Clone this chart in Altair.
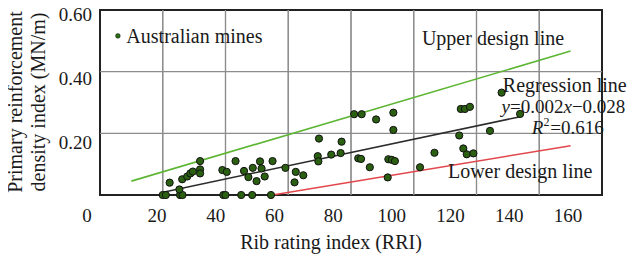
import altair as alt
import pandas as pd

FONT = "Liberation Serif"
TXT = "#1a1a1a"

# ---- data ----
rri = [20, 21, 25.5, 26.3, 39.3, 40, 45, 48.5, 54.5,
       22.2, 25.3, 26.2, 27.8, 28.8, 29.6, 31.9, 31.9, 31.9,
       39, 40.4, 43.2, 45.9, 47.3, 48.7, 49.9, 51, 51.5, 52.5, 55,
       59.1, 62.4, 64.8, 62, 69.8, 69.4, 69.6, 73.7, 76.7, 77, 82.3,
       81, 83.4, 88, 93.5, 93.5, 83.2, 86, 91.9, 93, 94, 91.7, 102, 106.6,
       115, 116.3, 117.9, 128, 133.9, 114.5, 124.3, 115.8, 116.9, 119]
prdi = [0, 0, 0, 0, 0, 0, 0, 0, 0,
        0.040, 0.018, 0.051, 0.060, 0.070, 0.076, 0.083, 0.070, 0.110,
        0.081, 0.075, 0.110, 0.078, 0.058, 0.088, 0.045, 0.109, 0.086, 0.060, 0.110,
        0.088, 0.075, 0.064, 0.041, 0.183, 0.126, 0.109, 0.131, 0.136, 0.173, 0.119,
        0.262, 0.262, 0.245, 0.267, 0.211, 0.117, 0.090, 0.116, 0.114, 0.110, 0.057, 0.090, 0.137,
        0.279, 0.279, 0.286, 0.332, 0.263, 0.193, 0.208, 0.151, 0.132, 0.135]

upper_x = [10, 150]
upper_y = [0.045, 0.467]
reg_x = [20.5, 134]
reg_y = [0.010, 0.254]
lower_x = [55, 150]
lower_y = [0.0, 0.160]

x_domain = [0, 160]
y_domain = [0, 0.6]
x_grid = [20, 40, 60, 80, 100, 120, 140]
y_grid = [0.2, 0.4]
x_label_vals = [20, 40, 60, 80, 100, 120, 140, 160]
x_label_text = ["20", "40", "60", "80", "100", "120", "140", "160"]
y_label_vals = [0.2, 0.4, 0.6]
y_label_text = ["0.20", "0.40", "0.60"]
x_title = "Rib rating index (RRI)"
y_title = "Primary reinforcement\ndensity index (MN/m)"

X = alt.Scale(domain=x_domain, nice=False, zero=False)
Y = alt.Scale(domain=y_domain, nice=False, zero=False)
GRID = "#8c8c8c"

df = pd.DataFrame({"rri": rri, "prdi": prdi})

# vertical grid lines: thin full-height rects on the x scale
vgrid = alt.Chart(pd.DataFrame({"gx": x_grid})).mark_rect(
    color=GRID, width=1.2, opacity=1).encode(
    x=alt.X("gx:Q", scale=X, axis=None))
hgrid = alt.Chart(pd.DataFrame({"gy": y_grid})).mark_rule(color=GRID, strokeWidth=1.2).encode(
    y=alt.Y("gy:Q", scale=Y, axis=None))

def seg(xs, ys, color, width=1.6):
    return alt.Chart(pd.DataFrame({"x": xs, "y": ys})).mark_line(
        color=color, strokeWidth=width).encode(
        x=alt.X("x:Q", scale=X, axis=None),
        y=alt.Y("y:Q", scale=Y, axis=None))

def note(text, x, y, dx=0, dy=0, size=20, style="normal", align="left",
         baseline="alphabetic"):
    return alt.Chart(pd.DataFrame({"t": [text]})).mark_text(
        font=FONT, fontSize=size, fontStyle=style, align=align,
        baseline=baseline, dx=dx, dy=dy, color=TXT).encode(
        x=alt.XDatum(x, axis=None), y=alt.YDatum(y, axis=None), text="t:N")

pts = alt.Chart(df).mark_circle(fill="#2b5f12", stroke="#111111", strokeWidth=1,
                                size=52, opacity=1).encode(
    x=alt.X("rri:Q", scale=X, axis=None),
    y=alt.Y("prdi:Q", scale=Y, axis=None))

upper = seg(upper_x, upper_y, "#5db534")
reg = seg(reg_x, reg_y, "#2b2b2b", 1.5)
lower = seg(lower_x, lower_y, "#e2474b")

legend_dot = alt.Chart(pd.DataFrame({"t": ["Australian mines"]})).mark_circle(
    fill="#2b6e14", stroke="#111111", strokeWidth=0.5, size=22, opacity=1).encode(
    x=alt.XDatum(5.7, axis=None), y=alt.YDatum(0.516, axis=None))

notes = [
    note("Australian mines", 8.4, 0.493),
    note("Upper design line", 102.6, 0.487),
    note("Regression line", 128.4, 0.334),
    note("y", 128.0, 0.266, size=19, style="italic"),
    note("=0.002", 128.0, 0.266, dx=8.4, size=19),
    note("x", 128.0, 0.266, dx=61.9, size=19, style="italic"),
    note("\u22120.028", 128.0, 0.266, dx=70.3, size=19),
    note("R", 137.6, 0.199, size=19, style="italic"),
    note("2", 137.6, 0.199, dx=11.8, dy=-8, size=12),
    note("=0.616", 137.6, 0.199, dx=18.5, size=19),
    note("Lower design line", 110.9, 0.055),
]

main = alt.layer(vgrid, hgrid, upper, lower, reg, pts, legend_dot, *notes)

# second try at the vertical grid, as a layer of its own with the same x mapping
vgrid2 = alt.Chart(pd.DataFrame({"hx": x_grid})).mark_rule(
    color=GRID, strokeWidth=1.2).encode(
    x=alt.X("hx:Q", scale=alt.Scale(domain=x_domain, nice=False, zero=False), axis=None))

# tick labels of the reference sit slightly off their grid lines
xlab = alt.Chart(pd.DataFrame({"v": x_label_vals, "t": x_label_text})).mark_text(
    font=FONT, fontSize=19, align="center", baseline="alphabetic", color=TXT).encode(
    x=alt.X("v:Q", scale=alt.Scale(domain=[20, 160], range=[57, 468], zero=False, nice=False), axis=None),
    y=alt.value(212), text="t:N")

ylab = alt.Chart(pd.DataFrame({"w": y_label_vals, "t": y_label_text})).mark_text(
    font=FONT, fontSize=19, align="right", baseline="middle", color=TXT).encode(
    y=alt.Y("w:Q", scale=alt.Scale(domain=[0.2, 0.6], range=[133, 5], zero=False, nice=False), axis=None),
    x=alt.value(-8), text="t:N")

origin = alt.Chart(pd.DataFrame({"t": ["0"]})).mark_text(
    font=FONT, fontSize=19, align="center", baseline="alphabetic", color=TXT).encode(
    x=alt.value(-13), y=alt.value(212), text="t:N")

xt = alt.Chart(pd.DataFrame({"t": [x_title]})).mark_text(
    font=FONT, fontSize=20, align="center", baseline="alphabetic", color=TXT).encode(
    x=alt.value(231), y=alt.value(239), text="t:N")

yt = alt.Chart(pd.DataFrame({"t": [y_title]})).mark_text(
    font=FONT, fontSize=20, align="center", baseline="middle", color=TXT,
    angle=270, lineBreak="\n", lineHeight=23).encode(
    x=alt.value(-84), y=alt.value(92), text="t:N")

chart = alt.layer(vgrid2, main, xlab, ylab, origin, xt, yt).resolve_scale(
    x="independent", y="independent").properties(
    width=502, height=185,
    autosize=alt.AutoSizeParams(type="none"),
    padding={"left": 92, "top": 2, "right": 27, "bottom": 59},
    background="white").configure_view(stroke="#222222", strokeWidth=2)

chart.save("out.html", embed_options={"renderer": "svg", "actions": False})
